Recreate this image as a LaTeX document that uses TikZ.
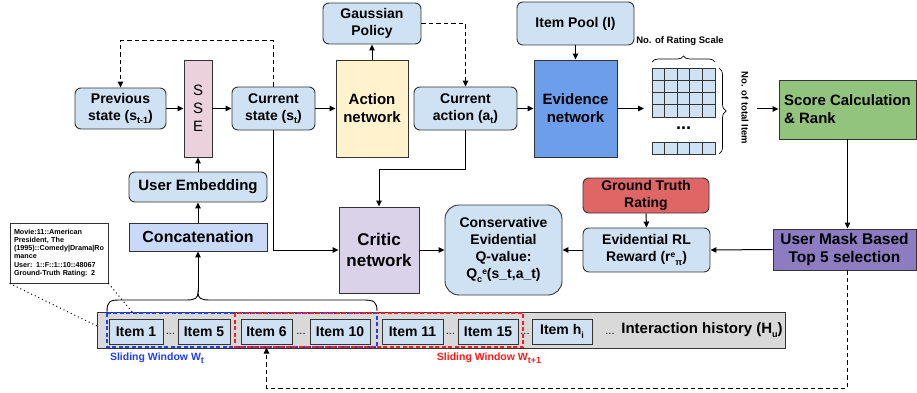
\documentclass[tikz,border=0pt]{standalone}
\usepackage{fontspec}
\setmainfont{Liberation Sans}
\usetikzlibrary{arrows.meta,decorations.pathreplacing}
\definecolor{lblue}{HTML}{CFE2F3}
\definecolor{cblue}{HTML}{C9DAF8}
\definecolor{ssec}{HTML}{EAD1DC}
\definecolor{actc}{HTML}{FFF2CC}
\definecolor{evic}{HTML}{6D9EEB}
\definecolor{scorec}{HTML}{93C47D}
\definecolor{maskc}{HTML}{8E7CC3}
\definecolor{gtc}{HTML}{E06666}
\definecolor{critc}{HTML}{D9D2E9}
\definecolor{histc}{HTML}{D9D9D9}
\definecolor{bordc}{HTML}{333333}
\definecolor{winblue}{HTML}{1F3FFF}
\definecolor{winred}{HTML}{FF1A1A}
\newcommand{\mysub}[1]{\raisebox{-3.5pt}{\fontsize{9}{9}\selectfont #1}}
\newcommand{\mysup}[1]{\raisebox{4.5pt}{\fontsize{8.5}{9}\selectfont #1}}
\begin{document}
\begin{tikzpicture}[x=1pt,y=-1pt,
  base/.style={draw=bordc, line width=0.9pt, inner sep=0pt, align=center, font=\bfseries\fontsize{14}{17}\selectfont},
  rbox/.style={base, rounded corners=6pt, fill=lblue},
  sbox/.style={base},
  arr/.style={-{Triangle[length=6pt,width=5.5pt]}, line width=1pt},
  darr/.style={arr, dash pattern=on 4.5pt off 3pt},
  itembox/.style={base, fill=lblue, minimum height=25pt},
  dotsl/.style={font=\fontsize{11}{11}\selectfont, inner sep=0pt},
  wsz/.style={line width=1.1pt, dash pattern=on 4pt off 2.5pt}
]
\useasboundingbox (0,0) rectangle (917,393);

% top row
\node[rbox, minimum width=91pt, minimum height=41pt] (prev) at (120.5,108.5) {Previous\\state (s\mysub{t-1})};
\node[sbox, fill=ssec, minimum width=28pt, minimum height=97pt, font=\fontsize{15}{18}\selectfont] (sse) at (198,108.5) {S\\S\\E};
\node[rbox, minimum width=83pt, minimum height=43pt] (cur) at (273.5,108.5) {Current\\state (s\mysub{t})};
\node[rbox, minimum width=138pt, minimum height=30pt, font=\bfseries\fontsize{15}{17}\selectfont] (ue) at (198,187) {User Embedding};
\node[sbox, fill=cblue, minimum width=138pt, minimum height=28pt, font=\bfseries\fontsize{16}{18}\selectfont] (concat) at (198,237) {Concatenation};
\node[draw=bordc, line width=0.8pt, fill=white, minimum width=98pt, minimum height=60pt, text width=90pt, inner xsep=4pt, inner ysep=0pt, align=left, font=\bfseries\fontsize{7.2}{8.3}\selectfont] (info) at (59,253) {Movie:11::American\\President, The\\(1995)::Comedy|Drama|Ro\\mance\\User: 1::F::1::10::48067\\Ground-Truth Rating: 2};

\node[rbox, minimum width=98pt, minimum height=41pt] (gauss) at (372,23.5) {Gaussian\\Policy};
\node[sbox, fill=actc, minimum width=72pt, minimum height=97pt, font=\bfseries\fontsize{15}{18}\selectfont] (action) at (372,108.5) {Action\\network};
\node[rbox, minimum width=103pt, minimum height=43pt] (cact) at (465.5,108.5) {Current\\action (a\mysub{t})};
\node[sbox, fill=evic, minimum width=83pt, minimum height=97pt, font=\bfseries\fontsize{15}{18}\selectfont] (evid) at (575.5,108.5) {Evidence\\network};
\node[rbox, minimum width=117pt, minimum height=43pt] (pool) at (575.5,23.5) {Item Pool (I)};

% grid
\foreach \r in {0,...,3}{
  \foreach \c in {0,...,4}{
    \draw[fill=lblue, draw=bordc, line width=0.9pt] ({652+12.6*\c},{68+12.25*\r}) rectangle ++(12.6,12.25);
  }
}
\foreach \c in {0,...,4}{
  \draw[fill=lblue, draw=bordc, line width=0.9pt] ({652+12.6*\c},142) rectangle ++(12.6,12);
}
\node[font=\bfseries\fontsize{18}{18}\selectfont, inner sep=0pt] (gdots) at (683.5,128) {...};
\draw[line width=0.7pt, decorate, decoration={brace, amplitude=6pt}] (652,62) -- (715,62);
\draw[line width=0.7pt, decorate, decoration={brace, amplitude=7pt}] (719,68) -- (719,154);
\node[font=\bfseries\fontsize{9.5}{10}\selectfont, inner sep=0pt] (nrs) at (680,41) {No. of Rating Scale};
\node[font=\bfseries\fontsize{9.5}{10}\selectfont, inner sep=0pt, rotate=-90] (nti) at (745,108) {No. of total Item};
\coordinate (gin) at (644,108.5);
\coordinate (gout) at (757,109);

\node[sbox, fill=scorec, minimum width=137pt, minimum height=59pt, align=left, font=\bfseries\fontsize{15}{18}\selectfont] (score) at (847.5,109.5) {Score Calculation\\\& Rank};
\node[sbox, fill=maskc, minimum width=143pt, minimum height=41pt, font=\bfseries\fontsize{15.5}{18}\selectfont] (mask) at (844.5,249.5) {User Mask Based\\Top 5 selection};
\node[rbox, fill=gtc, minimum width=126pt, minimum height=35pt] (gt) at (646,195.5) {Ground Truth\\Rating};
\node[rbox, minimum width=127pt, minimum height=44pt] (erl) at (646.5,250) {Evidential RL\\Reward (r\mysup{e}\mysub{π})};
\node[rbox, rounded corners=14pt, minimum width=117pt, minimum height=90pt] (cons) at (503.5,250) {Conservative\\Evidential\\Q-value:\\Q\mysub{c}\mysup{e}(s\_t,a\_t)};
\node[sbox, fill=critc, minimum width=80pt, minimum height=86pt, font=\bfseries\fontsize{17}{21}\selectfont] (critic) at (379,250) {Critic\\network};

% history
\node[sbox, fill=histc, minimum width=688pt, minimum height=36pt] (hist) at (441,330) {};
\node[itembox, minimum width=54pt] (i1) at (136,331.5) {Item 1};
\node[itembox, minimum width=52pt] (i5) at (204,331.5) {Item 5};
\node[itembox, minimum width=51pt] (i6) at (266.5,331.5) {Item 6};
\node[itembox, minimum width=60pt] (i10) at (340,331.5) {Item 10};
\node[itembox, minimum width=61pt] (i11) at (412.5,331.5) {Item 11};
\node[itembox, minimum width=60pt] (i15) at (488,331.5) {Item 15};
\node[itembox, minimum width=60pt] (ih) at (562,331.5) {Item h\mysub{i}};
\node[dotsl] (d1) at (170.5,334) {...};
\node[dotsl] (d2) at (301,334) {...};
\node[dotsl] (d3) at (450.5,334) {...};
\node[dotsl] (d4) at (525,334) {...};
\node[dotsl] (d5) at (610,334) {...};
\node[font=\bfseries\fontsize{15}{17}\selectfont, inner sep=0pt] (ihist) at (702,330) {Interaction history (H\mysub{u})};

% sliding windows
\draw[wsz, draw=winblue] (107,313) rectangle (377,347);
\draw[wsz, draw=winred] (235,313) rectangle (523,347);
\node[text=winblue, font=\bfseries\fontsize{10.5}{12}\selectfont, inner sep=0pt] (wt) at (157,358) {Sliding Window W\mysub{t}};
\node[text=winred, font=\bfseries\fontsize{10.5}{12}\selectfont, inner sep=0pt] (wt1) at (489,358) {Sliding Window W\mysub{t+1}};

% brace over window
\coordinate (btip) at (198,292);
\draw[line width=0.9pt] (107,312) .. controls (107,301) and (110,300) .. (120,300) -- (186,300) .. controls (196,300) and (198,298) .. (btip) .. controls (198,298) and (200,300) .. (210,300) -- (364,300) .. controls (374,300) and (377,302) .. (377,311);

% dotted callout
\draw[line width=1pt, dash pattern=on 1pt off 3pt] (info.south west) -- (97,326);
\draw[line width=1pt, dash pattern=on 1pt off 3pt] (info.south east) -- (134,314);

% connectors
\draw[arr] (prev.east) -- (sse.west);
\draw[arr] (sse.east) -- (cur.west);
\draw[arr] (cur.east) -- (action.west);
\draw[arr] (action.north) -- (gauss.south);
\draw[arr] (cact.east) -- (evid.west);
\draw[arr] (pool.south) -- (evid.north);
\draw[arr] (evid.east) -- (gin);
\draw[arr] (gout) -- (score.west |- gout);
\draw[arr] (score.south) -- (score.south |- mask.north);
\draw[arr] (mask.west) -- (erl.east);
\draw[arr] (gt.south) -- (erl.north);
\draw[arr] (erl.west) -- (cons.east);
\draw[arr] (critic.east) -- (cons.west);
\draw[arr] (cur.south) |- (critic.west);
\coordinate (k1) at (465.5,169);
\draw[arr] (cact.south) -- (k1) -| (critic.north);
\draw[arr] (concat.north) -- (ue.south);
\draw[arr] (ue.north) -- (sse.south);
\draw[arr] (btip) -- (concat.south);

% dashed feedback
\coordinate (c1) at (273.5,41);
\coordinate (c2) at (120.5,41);
\draw[darr] (cur.north) -- (c1) -- (c2) -- (prev.north);
\coordinate (c3) at (465.5,23.5);
\draw[darr] (gauss.east) -- (c3) -- (cact.north);
\coordinate (c4) at (847.5,388);
\coordinate (c5) at (266.5,388);
\draw[darr] (mask.south -| c4) -- (c4) -- (c5) -- (266.5,347.5);
\end{tikzpicture}
\end{document}
